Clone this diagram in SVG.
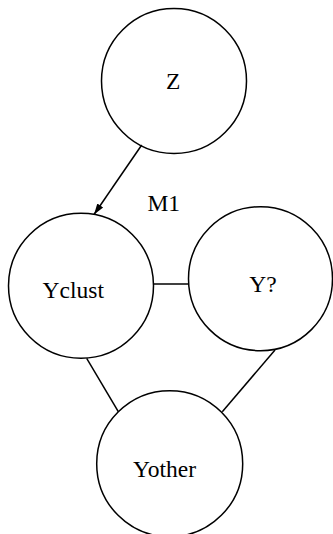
<svg xmlns="http://www.w3.org/2000/svg" width="333" height="534" viewBox="0 0 333 534">
<defs>
<style>
.node{fill:none;stroke:#000;stroke-width:1.5}
.edge{fill:none;stroke:#000;stroke-width:1.5}
text{font-family:"Liberation Serif","Times New Roman",serif;font-size:23.5px;fill:#000}
</style>
<marker id="arrow" viewBox="0 0 10 10" refX="10" refY="5" markerWidth="11" markerHeight="11" markerUnits="userSpaceOnUse" orient="auto">
<path d="M0,1.8 L10,5 L0,8.2 Z" fill="#000"/>
</marker>
</defs>
<rect width="333" height="534" fill="#fff"/>
<g id="connectors">
<line class="edge" x1="141.7" y1="145" x2="94" y2="214.5" marker-end="url(#arrow)"/>
<line class="edge" x1="153.5" y1="284" x2="188.5" y2="284"/>
<line class="edge" x1="86.7" y1="358.3" x2="118.3" y2="411.7"/>
<line class="edge" x1="275" y1="350" x2="222.3" y2="411.7"/>
<text x="163.8" y="210.7" text-anchor="middle">M1</text>
</g>
<g id="Z">
<circle class="node" cx="174" cy="81" r="72.5"/>
<text x="173.3" y="89" text-anchor="middle">Z</text>
</g>
<g id="Yclust">
<circle class="node" cx="81" cy="285.8" r="72.5"/>
<text x="73.3" y="297.7" text-anchor="middle">Yclust</text>
</g>
<g id="Yq">
<circle class="node" cx="260.5" cy="278.7" r="72"/>
<text x="263" y="291.7" text-anchor="middle">Y?</text>
</g>
<g id="Yother">
<circle class="node" cx="169.7" cy="463.7" r="73"/>
<text x="164.5" y="476.7" text-anchor="middle">Yother</text>
</g>
</svg>
